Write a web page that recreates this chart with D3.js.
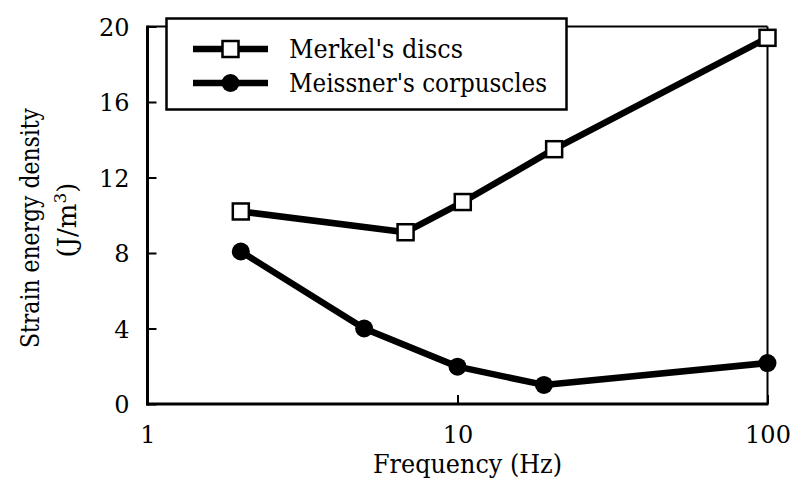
<!DOCTYPE html>
<html>
<head>
<meta charset="utf-8">
<script src="https://cdn.jsdelivr.net/npm/d3@7/dist/d3.min.js"></script>
<style>
  html, body { margin: 0; padding: 0; background: #fff; }
</style>
</head>
<body>
<svg id="chart" width="809" height="478" font-family="DejaVu Serif"></svg>
<script>
// Strain energy density vs. stimulus frequency for two mechanoreceptors
const merkelFreq = [2, 6.8, 10.4, 20.5, 100];
const merkelValues = [10.2, 9.1, 10.7, 13.5, 19.4];
const meissnerFreq = [2, 5, 10, 19, 100];
const meissnerValues = [8.08, 4.0, 1.98, 1.01, 2.17];
const yTicks = [0, 4, 8, 12, 16, 20];
const xTicks = [1, 10, 100];
const seriesNames = ["Merkel's discs", "Meissner's corpuscles"];

const serif = "DejaVu Serif";
const svg = d3.select("#chart");
const plotLeft = 147.5, plotRight = 767.5, plotTop = 26.5, plotBottom = 404;
const tickFont = 24, labelFont = 26;

const x = d3.scaleLog().domain([1, 100]).range([plotLeft, plotRight]);
const y = d3.scaleLinear().domain([0, 20]).range([plotBottom, plotTop]);

// frame: top and right edges are thinner than the axes
svg.append("line").attr("x1", plotLeft).attr("x2", plotRight).attr("y1", plotTop).attr("y2", plotTop)
  .attr("stroke", "#000").attr("stroke-width", 2);
svg.append("line").attr("x1", plotRight).attr("x2", plotRight).attr("y1", plotTop).attr("y2", plotBottom)
  .attr("stroke", "#000").attr("stroke-width", 2);

// y axis with inward ticks
const yAxis = d3.axisLeft(y).tickValues(yTicks).tickSize(-9).tickPadding(0).tickFormat(d3.format("d"));
const gy = svg.append("g").attr("transform", `translate(${plotLeft},0)`).call(yAxis)
  .attr("font-family", serif).attr("font-size", tickFont);
gy.select(".domain").attr("stroke-width", 3).attr("d", `M0,${plotTop - 1}V${plotBottom + 1.5}`);
gy.selectAll(".tick line").attr("stroke-width", 2);
gy.selectAll(".tick text").attr("x", -18).attr("dy", "0.36em");

// x axis (log) with inward ticks
const xAxis = d3.axisBottom(x).tickValues(xTicks).tickSize(-9).tickPadding(0).tickFormat(d3.format("d"));
const gx = svg.append("g").attr("transform", `translate(0,${plotBottom})`).call(xAxis)
  .attr("font-family", serif).attr("font-size", tickFont);
gx.select(".domain").attr("stroke-width", 3).attr("d", `M${plotLeft - 1.5},0H${plotRight + 1}`);
gx.selectAll(".tick line").attr("stroke-width", 2);
gx.selectAll(".tick text").attr("y", 39).attr("dy", null);

// axis titles (condensed to a Times-like set width)
svg.append("text").attr("x", 467.5).attr("y", 473).attr("text-anchor", "middle")
  .attr("font-family", serif).attr("font-size", labelFont)
  .attr("textLength", 189).attr("lengthAdjust", "spacingAndGlyphs")
  .text("Frequency (Hz)");

const yTitle = svg.append("g").attr("font-family", serif).attr("font-size", labelFont);
yTitle.append("text").attr("transform", "translate(39,228) rotate(-90)")
  .attr("text-anchor", "middle")
  .attr("textLength", 240).attr("lengthAdjust", "spacingAndGlyphs")
  .text("Strain energy density");
const unit = yTitle.append("text").attr("transform", "translate(76,220) rotate(-90)")
  .attr("text-anchor", "middle");
unit.append("tspan").text("(J/m");
unit.append("tspan").attr("dy", -10).attr("font-size", 17).text("3");
unit.append("tspan").attr("dy", 10).text(")");

// series lines and markers
const line = d3.line().x(d => x(d[0])).y(d => y(d[1]));
const merkel = merkelFreq.map((f, i) => [f, merkelValues[i]]);
const meissner = meissnerFreq.map((f, i) => [f, meissnerValues[i]]);

svg.append("path").datum(meissner).attr("d", line)
  .attr("fill", "none").attr("stroke", "#000").attr("stroke-width", 6.5).attr("stroke-linejoin", "round");
svg.append("path").datum(merkel).attr("d", line)
  .attr("fill", "none").attr("stroke", "#000").attr("stroke-width", 6.5).attr("stroke-linejoin", "round");

const sq = 16;
svg.selectAll("rect.merkel").data(merkel).join("rect").attr("class", "merkel")
  .attr("x", d => x(d[0]) - sq / 2).attr("y", d => y(d[1]) - sq / 2)
  .attr("width", sq).attr("height", sq)
  .attr("fill", "#fff").attr("stroke", "#000").attr("stroke-width", 2.5);
svg.selectAll("circle.meissner").data(meissner).join("circle").attr("class", "meissner")
  .attr("cx", d => x(d[0])).attr("cy", d => y(d[1])).attr("r", 9).attr("fill", "#000");

// legend
const lg = svg.append("g").attr("font-family", serif).attr("font-size", labelFont);
lg.append("rect").attr("x", 166.5).attr("y", 18.5).attr("width", 400).attr("height", 91)
  .attr("fill", "#fff").attr("stroke", "#000").attr("stroke-width", 2.5);
const rows = [49, 83];
const nameWidths = [174, 258];
seriesNames.forEach((name, i) => {
  const cy = rows[i];
  lg.append("line").attr("x1", 193).attr("x2", 268).attr("y1", cy).attr("y2", cy)
    .attr("stroke", "#000").attr("stroke-width", 6.5);
  if (i === 0) {
    lg.append("rect").attr("x", 230.5 - sq / 2).attr("y", cy - sq / 2).attr("width", sq).attr("height", sq)
      .attr("fill", "#fff").attr("stroke", "#000").attr("stroke-width", 2.5);
  } else {
    lg.append("circle").attr("cx", 230.5).attr("cy", cy).attr("r", 9).attr("fill", "#000");
  }
  lg.append("text").attr("x", 289).attr("y", cy + 9)
    .attr("textLength", nameWidths[i]).attr("lengthAdjust", "spacingAndGlyphs").text(name);
});
</script>
</body>
</html>
